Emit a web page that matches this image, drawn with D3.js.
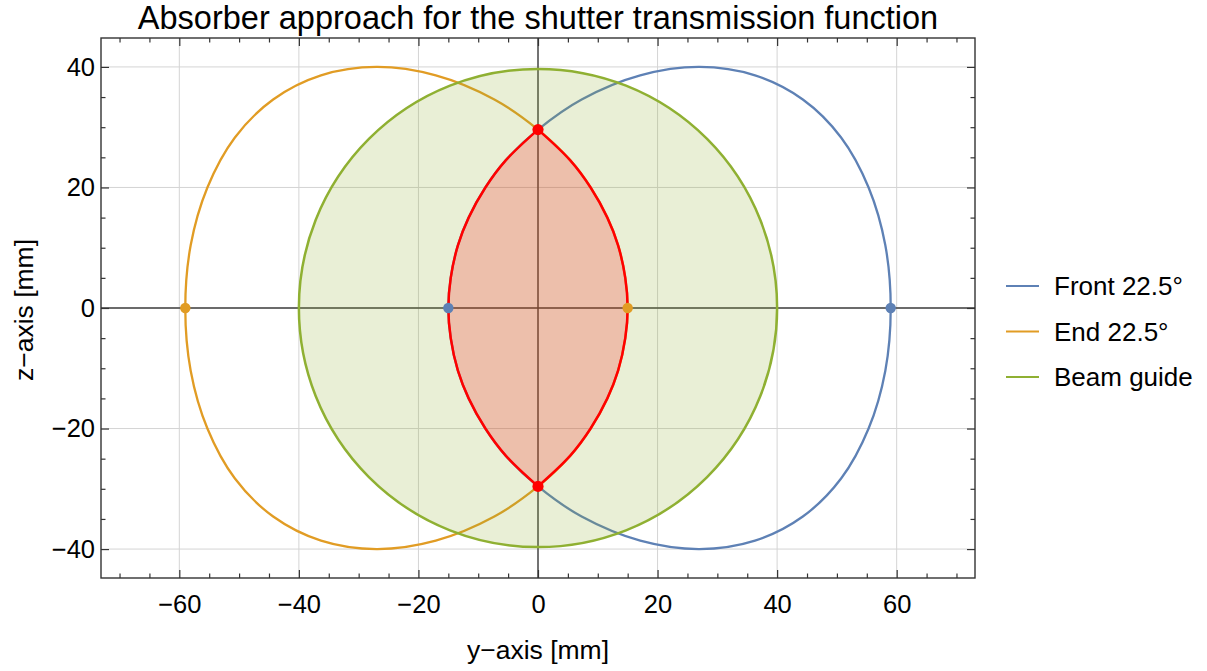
<!DOCTYPE html>
<html>
<head>
<meta charset="utf-8">
<script src="https://cdn.jsdelivr.net/npm/d3@7"></script>
<style>
  html, body { margin: 0; padding: 0; background: #fff; }
  svg text { font-family: "Liberation Sans", Arial, sans-serif; fill: #000; }
</style>
</head>
<body>
<svg id="chart" width="1207" height="671"></svg>
<script>
// Outline of the front absorber (22.5°) projected into the y–z plane [mm]
const frontY = [59, 58.1, 55.3, 50.7, 44.3, 36.3, 27, 17.1, 7.3, 0, -5.4, -8.8, -11.6, -13.4, -14.6, -15,
                -14.6, -13.4, -11.6, -8.8, -5.4, 0, 7.3, 17.1, 27, 36.3, 44.3, 50.7, 55.3, 58.1];
const frontZ = [0, 10.4, 20, 28.3, 34.6, 38.6, 40, 38.6, 34.6, 29.6, 24.5, 20, 15, 10.4, 5, 0,
                -5, -10.4, -15, -20, -24.5, -29.6, -34.6, -38.6, -40, -38.6, -34.6, -28.3, -20, -10.4];

// Outline of the end absorber (22.5°)
const endY = [-59, -58.1, -55.3, -50.7, -44.3, -36.3, -27, -17.1, -7.3, 0, 5.4, 8.8, 11.6, 13.4, 14.6, 15,
              14.6, 13.4, 11.6, 8.8, 5.4, 0, -7.3, -17.1, -27, -36.3, -44.3, -50.7, -55.3, -58.1];
const endZ = [0, 10.4, 20, 28.3, 34.6, 38.6, 40, 38.6, 34.6, 29.6, 24.5, 20, 15, 10.4, 5, 0,
              -5, -10.4, -15, -20, -24.5, -29.6, -34.6, -38.6, -40, -38.6, -34.6, -28.3, -20, -10.4];

// Beam guide cross-section
const beamCenter = [0, 0];
const beamRadius = 40;

// Transmitted window: left edge (front outline) and right edge (end outline)
const lensLeftY = [0, -5.4, -8.8, -11.6, -13.4, -14.6, -15, -14.6, -13.4, -11.6, -8.8, -5.4, 0];
const lensLeftZ = [29.6, 24.5, 20, 15, 10.4, 5, 0, -5, -10.4, -15, -20, -24.5, -29.6];
const lensRightY = [0, 5.4, 8.8, 11.6, 13.4, 14.6, 15, 14.6, 13.4, 11.6, 8.8, 5.4, 0];
const lensRightZ = [-29.6, -24.5, -20, -15, -10.4, -5, 0, 5, 10.4, 15, 20, 24.5, 29.6];

// Marked points
const frontDotsY = [-15, 59], frontDotsZ = [0, 0];
const endDotsY = [15, -59], endDotsZ = [0, 0];
const crossDotsY = [0, 0], crossDotsZ = [29.6, -29.6];

// Ticks
const xMajor = [-60, -40, -20, 0, 20, 40, 60];
const xMinor = [-70, -65, -55, -50, -45, -35, -30, -25, -15, -10, -5, 5, 10, 15, 25, 30, 35, 45, 50, 55, 65, 70];
const yMajor = [-40, -20, 0, 20, 40];
const yMinor = [-35, -30, -25, -15, -10, -5, 5, 10, 15, 25, 30, 35];

const seriesNames = ["Front 22.5°", "End 22.5°", "Beam guide"];
const seriesColors = ["#5E81B5", "#E19C24", "#8FB032"];

const title = "Absorber approach for the shutter transmission function";
const xLabel = "y\u2212axis [mm]";
const yLabel = "z\u2212axis [mm]";

// ---- layout ----
const svg = d3.select("#chart");
const L = 101, R = 975, T = 38, B = 578;
const x = d3.scaleLinear().domain([-73.1, 73.1]).range([L, R]);
const y = d3.scaleLinear().domain([-44.8, 44.8]).range([B, T]);

const plot = svg.append("g");
plot.append("clipPath").attr("id", "clip")
  .append("rect").attr("x", L).attr("y", T).attr("width", R - L).attr("height", B - T);
const inner = plot.append("g").attr("clip-path", "url(#clip)");

// grid lines
inner.append("g").selectAll("line").data(xMajor).join("line")
  .attr("x1", d => x(d)).attr("x2", d => x(d)).attr("y1", T).attr("y2", B)
  .attr("stroke", "#d4d4d4").attr("stroke-width", 1);
inner.append("g").selectAll("line").data(yMajor).join("line")
  .attr("y1", d => y(d)).attr("y2", d => y(d)).attr("x1", L).attr("x2", R)
  .attr("stroke", "#d4d4d4").attr("stroke-width", 1);

// zero axes
inner.append("line").attr("x1", x(0)).attr("x2", x(0)).attr("y1", T).attr("y2", B)
  .attr("stroke", "#404040").attr("stroke-width", 1.4);
inner.append("line").attr("y1", y(0)).attr("y2", y(0)).attr("x1", L).attr("x2", R)
  .attr("stroke", "#404040").attr("stroke-width", 1.4);

const closedLine = d3.line().x(d => x(d[0])).y(d => y(d[1])).curve(d3.curveCatmullRomClosed.alpha(0.5));
const openLine = d3.line().x(d => x(d[0])).y(d => y(d[1])).curve(d3.curveCatmullRom.alpha(0.5));

const zip = (a, b) => a.map((v, i) => [v, b[i]]);

// absorber outlines
inner.append("path").attr("d", closedLine(zip(frontY, frontZ)))
  .attr("fill", "none").attr("stroke", seriesColors[0]).attr("stroke-width", 2.3);
inner.append("path").attr("d", closedLine(zip(endY, endZ)))
  .attr("fill", "none").attr("stroke", seriesColors[1]).attr("stroke-width", 2.3);

// beam guide
inner.append("circle")
  .attr("cx", x(beamCenter[0])).attr("cy", y(beamCenter[1]))
  .attr("r", x(beamRadius) - x(0))
  .attr("fill", seriesColors[2]).attr("fill-opacity", 0.2)
  .attr("stroke", seriesColors[2]).attr("stroke-width", 2.5);

// transmitted window
const leftPath = openLine(zip(lensLeftY, lensLeftZ));
const rightPath = openLine(zip(lensRightY, lensRightZ)).replace(/^M/, "L");
inner.append("path").attr("d", leftPath + rightPath + "Z")
  .attr("fill", "#ff0000").attr("fill-opacity", 0.2)
  .attr("stroke", "#ff0000").attr("stroke-width", 2.5).attr("stroke-linejoin", "miter");

// marker points
function dots(ys, zs, color, r) {
  inner.append("g").selectAll("circle").data(zip(ys, zs)).join("circle")
    .attr("cx", d => x(d[0])).attr("cy", d => y(d[1])).attr("r", r)
    .attr("fill", color);
}
dots(frontDotsY, frontDotsZ, seriesColors[0], 5.2);
dots(endDotsY, endDotsZ, seriesColors[1], 5.2);
dots(crossDotsY, crossDotsZ, "#ff0000", 5.6);

// frame with inward ticks
const frameColor = "#333";
function styleAxis(g) {
  g.select(".domain").remove();
  g.selectAll(".tick line").attr("stroke", frameColor).attr("stroke-width", 1.2);
  g.selectAll("text").style("font-size", "25.5px").attr("fill", "#000");
}
const fmt = d3.format("d");
svg.append("g").attr("transform", `translate(0,${B})`)
  .call(d3.axisBottom(x).tickValues(xMajor).tickSize(-8).tickPadding(17).tickFormat(fmt)).call(styleAxis);
svg.append("g").attr("transform", `translate(0,${B})`)
  .call(d3.axisBottom(x).tickValues(xMinor).tickSize(-4.5).tickFormat("")).call(styleAxis);
svg.append("g").attr("transform", `translate(0,${T})`)
  .call(d3.axisTop(x).tickValues(xMajor).tickSize(-8).tickFormat("")).call(styleAxis);
svg.append("g").attr("transform", `translate(0,${T})`)
  .call(d3.axisTop(x).tickValues(xMinor).tickSize(-4.5).tickFormat("")).call(styleAxis);
svg.append("g").attr("transform", `translate(${L},0)`)
  .call(d3.axisLeft(y).tickValues(yMajor).tickSize(-8).tickPadding(6).tickFormat(fmt)).call(styleAxis);
svg.append("g").attr("transform", `translate(${L},0)`)
  .call(d3.axisLeft(y).tickValues(yMinor).tickSize(-4.5).tickFormat("")).call(styleAxis);
svg.append("g").attr("transform", `translate(${R},0)`)
  .call(d3.axisRight(y).tickValues(yMajor).tickSize(-8).tickFormat("")).call(styleAxis);
svg.append("g").attr("transform", `translate(${R},0)`)
  .call(d3.axisRight(y).tickValues(yMinor).tickSize(-4.5).tickFormat("")).call(styleAxis);

svg.append("rect").attr("x", L).attr("y", T).attr("width", R - L).attr("height", B - T)
  .attr("fill", "none").attr("stroke", frameColor).attr("stroke-width", 1.4);

// titles
svg.append("text").attr("x", 538).attr("y", 29).attr("text-anchor", "middle")
  .style("font-size", "32.5px").text(title);
svg.append("text").attr("x", 538).attr("y", 659).attr("text-anchor", "middle")
  .style("font-size", "26.5px").text(xLabel);
svg.append("text").attr("transform", "translate(33,310) rotate(-90)").attr("text-anchor", "middle")
  .style("font-size", "26.5px").text(yLabel);

// legend
const legend = svg.append("g");
const legendRows = seriesNames.map((n, i) => ({ name: n, color: seriesColors[i], i }));
const lg = legend.selectAll("g").data(legendRows).join("g")
  .attr("transform", d => `translate(1006,${286 + d.i * 45.5})`);
lg.append("line").attr("x1", 0).attr("x2", 33).attr("y1", 0).attr("y2", 0)
  .attr("stroke", d => d.color).attr("stroke-width", 2.2);
lg.append("text").attr("x", 48).attr("y", 0).attr("dy", "0.35em")
  .style("font-size", "26px").text(d => d.name);
</script>
</body>
</html>
